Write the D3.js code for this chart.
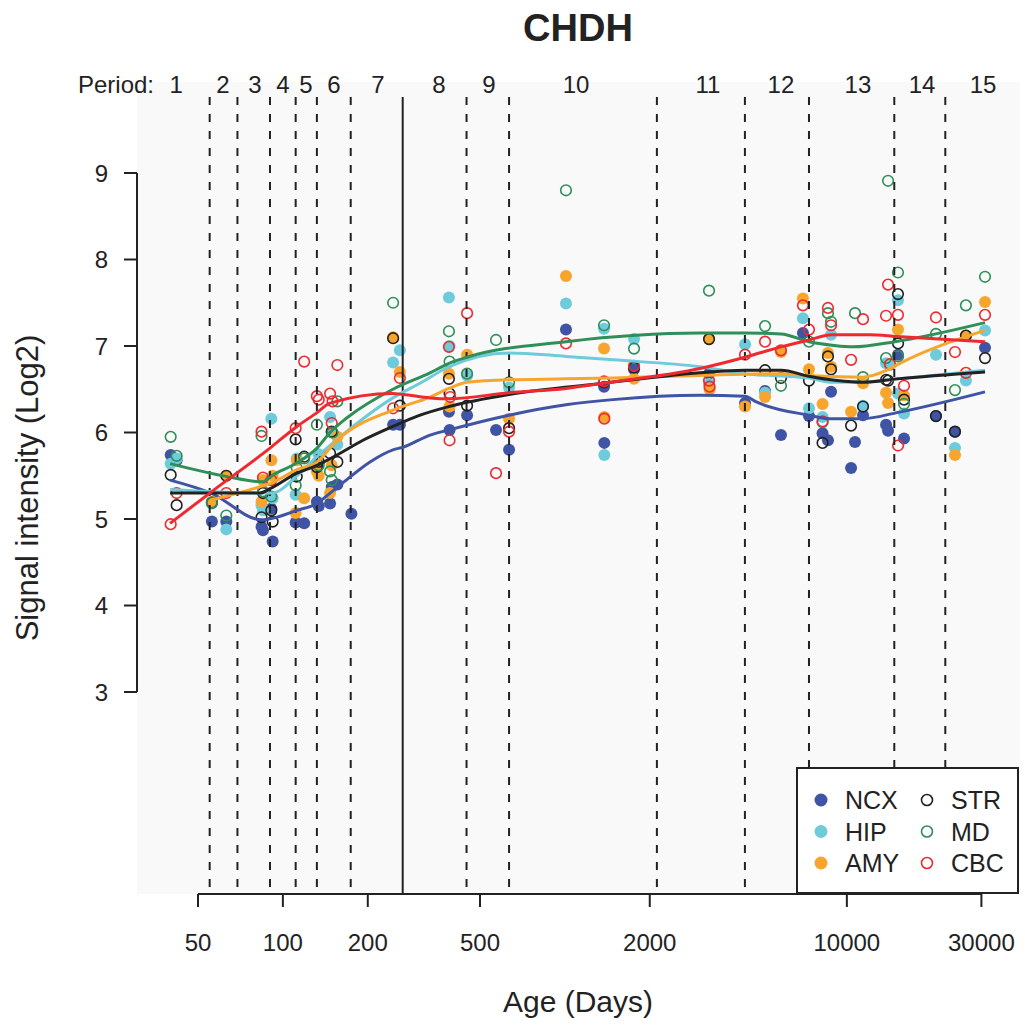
<!DOCTYPE html>
<meta charset="utf-8">
<style>
body { margin: 0; background: #fff; }
text { font-family: "Liberation Sans", Arial, sans-serif; fill: #222; }
</style>
<body>
<script src="https://d3js.org/d3.v7.min.js"></script>
<script>

// sample points: [age in days, log2 signal]
var ncx = [[40,5.74],[42,5.68],[56,4.97],[63,4.97],[84,4.91],[85,4.87],[91,5.12],[92,4.74],[111,4.96],[119,4.95],[132,5.20],[134,5.15],[147,5.18],[149,5.37],[156,5.40],[175,5.06],[246,6.09],[260,6.09],[388,6.24],[390,6.03],[450,6.20],[570,6.03],[634,5.80],[1009,7.19],[1377,6.53],[1380,5.88],[1759,6.73],[3245,6.68],[4355,6.34],[5128,6.48],[5840,5.97],[6986,7.15],[7340,6.19],[8200,5.99],[8570,5.91],[8790,6.47],[10350,5.59],[10690,5.89],[11410,6.20],[13770,6.09],[14000,6.02],[15180,6.90],[15950,5.93],[20700,6.19],[24180,6.01],[30900,6.98]];
var hip = [[40,5.64],[42,5.70],[56,5.18],[63,4.88],[84,5.16],[85,5.10],[91,6.16],[92,5.24],[111,5.28],[112,5.70],[132,5.65],[134,5.75],[147,6.18],[149,6.00],[156,5.86],[246,6.81],[260,6.95],[388,7.56],[390,7.00],[450,6.66],[634,6.52],[1009,7.49],[1377,7.20],[1380,5.74],[1759,7.08],[3245,6.56],[4355,7.02],[5128,6.46],[6986,7.32],[7340,6.28],[8200,6.18],[8790,7.13],[11410,6.31],[13770,6.80],[14220,6.78],[15180,7.53],[15190,6.45],[15950,6.22],[20700,6.90],[24180,5.82],[26440,6.60],[30900,7.18]];
var amy = [[56,5.20],[63,5.50],[84,5.20],[85,5.45],[91,5.68],[92,5.50],[111,5.07],[112,5.68],[119,5.24],[132,5.55],[134,5.50],[147,5.30],[149,5.62],[156,5.95],[246,7.10],[260,6.70],[388,6.68],[390,6.30],[450,6.90],[634,6.16],[1009,7.81],[1377,6.97],[1380,6.18],[1759,6.62],[3245,7.08],[3260,6.50],[4355,6.30],[5128,6.41],[5840,6.93],[6986,7.55],[7340,6.73],[8200,6.33],[8570,6.92],[8790,6.76],[10350,6.24],[11410,6.57],[13770,6.46],[14000,6.34],[15180,7.19],[15950,6.43],[24180,5.74],[26440,7.12],[30900,7.51]];
var str = [[40,5.51],[42,5.16],[56,5.19],[63,5.50],[84,5.02],[85,5.30],[91,5.10],[92,4.97],[111,5.92],[112,5.49],[119,5.72],[132,5.60],[134,5.66],[147,5.76],[149,6.01],[156,5.66],[246,7.09],[260,6.31],[388,6.62],[390,6.45],[450,6.31],[634,6.05],[1377,6.58],[1759,6.75],[3245,7.08],[5128,6.72],[5840,6.63],[7340,6.60],[8200,5.88],[8570,6.88],[8790,6.73],[10350,6.08],[11410,6.30],[13770,6.61],[14000,6.60],[15180,7.60],[15190,7.03],[15950,6.38],[20700,6.19],[24180,6.01],[26440,7.12],[30900,6.86]];
var md = [[40,5.95],[42,5.73],[56,5.19],[63,5.04],[84,5.96],[85,5.32],[91,5.26],[111,5.39],[112,5.59],[119,5.70],[132,6.09],[134,5.62],[147,5.55],[149,5.45],[150,6.00],[156,6.36],[246,7.50],[388,7.17],[390,6.82],[450,6.68],[570,7.07],[634,6.58],[1009,8.80],[1377,7.24],[1759,6.97],[3245,7.64],[5128,7.23],[5840,6.54],[7340,7.05],[8200,6.12],[8570,7.38],[8790,7.28],[10690,7.38],[11410,6.64],[13770,6.86],[14000,8.91],[15180,7.85],[15190,6.88],[15950,6.33],[20700,7.14],[24180,6.49],[26440,7.47],[30900,7.80]];
var cbc = [[40,4.94],[42,5.30],[63,5.30],[84,6.01],[85,5.48],[91,5.45],[111,6.05],[119,6.82],[132,6.42],[134,6.38],[147,6.45],[149,6.11],[150,6.36],[156,6.78],[246,6.28],[260,6.63],[388,6.99],[390,5.91],[392,6.41],[450,7.38],[570,5.53],[634,6.01],[1009,7.03],[1377,6.59],[1380,6.16],[1759,6.77],[3245,6.60],[3260,6.53],[4355,6.90],[5128,7.05],[5840,6.95],[6986,7.47],[7340,7.19],[8200,6.13],[8570,7.44],[8790,7.24],[10350,6.84],[11410,7.31],[13770,7.35],[14000,7.71],[14220,6.79],[15180,7.36],[15190,5.85],[15950,6.54],[20700,7.33],[24180,6.93],[26440,6.69],[30900,7.36]];

// smoothed curves: [age in days, log2 signal]
var ncxFit = [[39.8,5.45],[55.6,5.30],[84.3,4.99],[92.3,5.01],[112.2,5.10],[132.1,5.18],[147,5.30],[163.4,5.42],[203.7,5.66],[245.7,5.80],[266.6,5.83],[332.5,5.97],[388.3,6.03],[633.6,6.20],[1009,6.32],[1481,6.38],[3014,6.43],[4351,6.42],[4800,6.35],[7339,6.20],[8711,6.16],[11400,6.16],[15050,6.23],[30900,6.47]];
var hipFit = [[39.8,5.34],[84.3,5.30],[91.5,5.30],[112.2,5.50],[132.1,5.72],[150.6,5.88],[245.7,6.40],[306.4,6.57],[388.3,6.76],[633.6,6.92],[1009,6.88],[1481,6.84],[3014,6.76],[4351,6.68],[7339,6.63],[8854,6.58],[11400,6.58],[15050,6.62],[30900,6.72]];
var amyFit = [[55.6,5.22],[84.3,5.38],[90,5.41],[112.2,5.57],[132.1,5.66],[155.6,5.91],[245.7,6.26],[332.5,6.41],[388.3,6.51],[449.7,6.58],[633.6,6.61],[1009,6.62],[1481,6.63],[3014,6.66],[5839,6.68],[7339,6.66],[11400,6.64],[13870,6.72],[15430,6.80],[30900,7.18]];
var strFit = [[39.8,5.30],[83,5.30],[90,5.35],[112.2,5.53],[132.1,5.62],[155.6,5.74],[192.3,5.91],[245.7,6.07],[300,6.19],[388.3,6.30],[633.6,6.44],[1376,6.57],[3014,6.69],[4351,6.72],[5839,6.72],[7339,6.65],[9225,6.60],[11400,6.58],[15050,6.62],[30900,6.70]];
var mdFit = [[39.8,5.64],[63.4,5.49],[84.3,5.43],[92.3,5.51],[112.2,5.65],[132.1,5.82],[147,6.00],[168.8,6.17],[245.7,6.50],[332.5,6.69],[388.3,6.80],[449.7,6.87],[1009,7.05],[3014,7.15],[4351,7.15],[5839,7.14],[7339,7.05],[8854,7.01],[10510,6.99],[14810,7.05],[30900,7.27]];
var cbcFit = [[39.8,4.95],[56.1,5.32],[90,5.82],[112.2,6.07],[132.1,6.23],[147,6.34],[245.7,6.45],[266.6,6.44],[332.5,6.40],[388.3,6.39],[633.6,6.46],[1009,6.51],[1376,6.57],[3014,6.74],[4351,6.87],[5839,6.99],[7339,7.07],[8854,7.13],[12080,7.13],[15050,7.11],[30900,7.05]];

var regions = ["NCX", "HIP", "AMY", "STR", "MD", "CBC"];
var colors = ["#3f54a4", "#6ecbdc", "#f7a52d", "#222222", "#2e8f58", "#ec2a30"];
var filled = [true, true, true, false, false, false];
var points = [ncx, hip, amy, str, md, cbc];
var fits = [ncxFit, hipFit, amyFit, strFit, mdFit, cbcFit];

// period boundaries (days) and label positions
var periodBreaks = [55, 69, 90, 111, 132, 174, 448, 634, 2120, 4350, 7340, 14730, 22340];
var birth = 266;
var periodLabels = ["1","2","3","4","5","6","7","8","9","10","11","12","13","14","15"];
var periodMids = [41.8, 61.3, 79.6, 100, 120.8, 151.8, 217.4, 357.8, 538, 1095, 3218, 5839, 10950, 18470, 30390];

var xTicks = [50, 100, 200, 500, 2000, 10000, 30000];
var yTicks = [3, 4, 5, 6, 7, 8, 9];

var width = 1025, height = 1025;
var svg = d3.select("body").append("svg")
    .attr("width", width)
    .attr("height", height);

var x = d3.scaleLog().domain([50, 30000]).range([198, 981.4]);
var y = d3.scaleLinear().domain([3, 9]).range([692, 173]);

// plot background
svg.append("rect")
    .attr("x", 137).attr("y", 82)
    .attr("width", 1020 - 137).attr("height", 894 - 82)
    .attr("fill", "#f9f9f9");

// points
points.forEach(function(pts, i) {
  svg.append("g").selectAll("circle")
      .data(pts)
    .enter().append("circle")
      .attr("cx", function(d) { return x(d[0]); })
      .attr("cy", function(d) { return y(d[1]); })
      .attr("r", filled[i] ? 6 : 5.3)
      .attr("fill", filled[i] ? colors[i] : "none")
      .attr("stroke", filled[i] ? "none" : colors[i])
      .attr("stroke-width", 1.6);
});

// period lines
svg.append("g").selectAll("line")
    .data(periodBreaks)
  .enter().append("line")
    .attr("x1", function(d) { return x(d); })
    .attr("x2", function(d) { return x(d); })
    .attr("y1", 97).attr("y2", 894)
    .attr("stroke", "#222")
    .attr("stroke-width", 2)
    .attr("stroke-dasharray", "8,9");

svg.append("line")
    .attr("x1", x(birth)).attr("x2", x(birth))
    .attr("y1", 97).attr("y2", 894)
    .attr("stroke", "#222")
    .attr("stroke-width", 2);

// fitted curves
var line = d3.line()
    .x(function(d) { return x(d[0]); })
    .y(function(d) { return y(d[1]); })
    .curve(d3.curveMonotoneX);

fits.forEach(function(f, i) {
  svg.append("path")
      .datum(f)
      .attr("d", line)
      .attr("fill", "none")
      .attr("stroke", colors[i])
      .attr("stroke-width", 3);
});

// y axis
var yAxis = svg.append("g");
yAxis.append("line")
    .attr("x1", 137).attr("x2", 137)
    .attr("y1", y(3)).attr("y2", y(9))
    .attr("stroke", "#222").attr("stroke-width", 2);
yAxis.selectAll(".ytick")
    .data(yTicks)
  .enter().append("line")
    .attr("x1", 124).attr("x2", 137)
    .attr("y1", function(d) { return y(d); })
    .attr("y2", function(d) { return y(d); })
    .attr("stroke", "#222").attr("stroke-width", 2);
yAxis.selectAll("text")
    .data(yTicks)
  .enter().append("text")
    .attr("x", 108)
    .attr("y", function(d) { return y(d) + 8.5; })
    .attr("text-anchor", "end")
    .attr("font-size", 24)
    .text(function(d) { return d; });

// x axis
var xAxis = svg.append("g");
xAxis.append("line")
    .attr("x1", x(50)).attr("x2", x(30000))
    .attr("y1", 894).attr("y2", 894)
    .attr("stroke", "#222").attr("stroke-width", 2);
xAxis.selectAll(".xtick")
    .data(xTicks)
  .enter().append("line")
    .attr("x1", function(d) { return x(d); })
    .attr("x2", function(d) { return x(d); })
    .attr("y1", 894).attr("y2", 907)
    .attr("stroke", "#222").attr("stroke-width", 2);
xAxis.selectAll("text")
    .data(xTicks)
  .enter().append("text")
    .attr("x", function(d) { return x(d); })
    .attr("y", 951)
    .attr("text-anchor", "middle")
    .attr("font-size", 24)
    .text(function(d) { return d; });

// period labels
svg.append("text")
    .attr("x", 154).attr("y", 93)
    .attr("text-anchor", "end")
    .attr("font-size", 24)
    .text("Period:");
svg.append("g").selectAll("text")
    .data(periodLabels)
  .enter().append("text")
    .attr("x", function(d, i) { return x(periodMids[i]); })
    .attr("y", 93)
    .attr("text-anchor", "middle")
    .attr("font-size", 24)
    .text(function(d) { return d; });

// titles
svg.append("text")
    .attr("x", 578).attr("y", 41)
    .attr("text-anchor", "middle")
    .attr("font-size", 38)
    .attr("font-weight", "bold")
    .text("CHDH");
svg.append("text")
    .attr("x", 578).attr("y", 1012)
    .attr("text-anchor", "middle")
    .attr("font-size", 30)
    .text("Age (Days)");
svg.append("text")
    .attr("transform", "translate(38,488) rotate(-90)")
    .attr("text-anchor", "middle")
    .attr("font-size", 31)
    .text("Signal intensity (Log2)");

// legend
var legend = svg.append("g");
legend.append("rect")
    .attr("x", 797).attr("y", 768)
    .attr("width", 221).attr("height", 125)
    .attr("fill", "#fff")
    .attr("stroke", "#222").attr("stroke-width", 2);
regions.forEach(function(r, i) {
  var col = Math.floor(i / 3), row = i % 3;
  var cx = col ? 927 : 821, cy = 800 + row * 31.5;
  legend.append("circle")
      .attr("cx", cx).attr("cy", cy)
      .attr("r", filled[i] ? 6.5 : 5.5)
      .attr("fill", filled[i] ? colors[i] : "none")
      .attr("stroke", filled[i] ? "none" : colors[i])
      .attr("stroke-width", 1.6);
  legend.append("text")
      .attr("x", cx + 24).attr("y", cy + 9)
      .attr("font-size", 25)
      .text(r);
});

</script>
</body>
